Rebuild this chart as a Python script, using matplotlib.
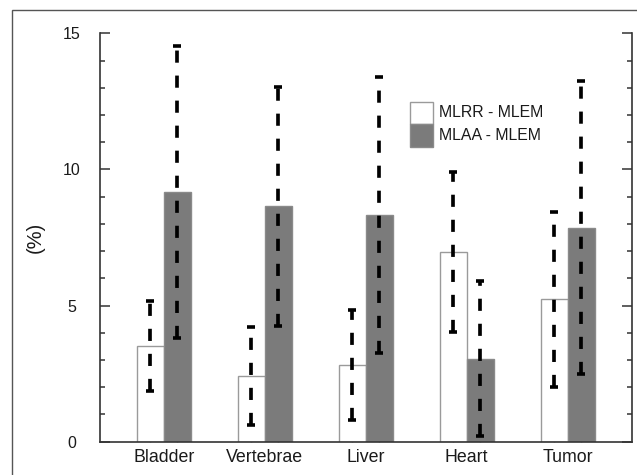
import numpy as np
import matplotlib.pyplot as plt
from matplotlib.patches import Rectangle
from matplotlib.ticker import MultipleLocator

plt.rcParams['font.family'] = ['Liberation Sans', 'DejaVu Sans']

organs = ['Bladder', 'Vertebrae', 'Liver', 'Heart', 'Tumor']
mlrr_mean = [3.53, 2.41, 2.81, 6.96, 5.23]
mlrr_err = [1.65, 1.79, 2.01, 2.93, 3.22]
mlaa_mean = [9.17, 8.64, 8.33, 3.05, 7.86]
mlaa_err = [5.35, 4.39, 5.08, 2.84, 5.39]
series_names = ['MLRR - MLEM', 'MLAA - MLEM']
series_colors = ['white', '#7b7b7b']
series_edges = ['#9a9a9a', '#8a8a8a']

x = np.arange(len(organs))
w = 0.268

fig = plt.figure(figsize=(6.37, 4.75), dpi=100)
ax = fig.add_axes([100 / 637, 1 - 441.7 / 475, 532 / 637, 408.4 / 475])

# thin frame around the figure (only left and top edges visible)
fig.patches.append(Rectangle((12 / 637, -0.1), 1.2, 1.1 - 10 / 475,
                             transform=fig.transFigure, fill=False,
                             edgecolor='#555555', linewidth=1.0))

ax.bar(x - w / 2, mlrr_mean, w, color=series_colors[0], edgecolor=series_edges[0],
       linewidth=1.0, zorder=2)
ax.bar(x + w / 2, mlaa_mean, w, color=series_colors[1], edgecolor=series_edges[1],
       linewidth=1.0, zorder=2)

for xs, m, e in [(x - w / 2, mlrr_mean, mlrr_err), (x + w / 2, mlaa_mean, mlaa_err)]:
    eb = ax.errorbar(xs, m, yerr=e, fmt='none', ecolor='black',
                     elinewidth=2.65, capsize=3.2, capthick=2.6, zorder=3)
    eb[2][0].set_linestyle((0, (3.3, 3.5)))

ax.set_xlim(-0.634, 4.638)
ax.set_ylim(0, 15)

ax.set_xticks(x)
ax.set_xticklabels(organs, fontsize=12.8, color='#1a1a1a')
ax.set_xticks(np.concatenate([x - w / 2, x + w / 2]), minor=True)
ax.tick_params(axis='x', which='major', length=0, pad=5)
ax.tick_params(axis='x', which='minor', direction='in', length=5.8,
               color='#aaaaaa', width=1.0)

ax.yaxis.set_major_locator(MultipleLocator(5))
ax.yaxis.set_minor_locator(MultipleLocator(1))
ax.tick_params(axis='y', which='both', direction='in', left=True, right=True,
               width=1.1, color='#333333')
ax.tick_params(axis='y', which='major', length=7.2, labelsize=11.5,
               pad=20.5, labelcolor='#1a1a1a')
ax.tick_params(axis='y', which='minor', length=3.6)
for lbl in ax.get_yticklabels():
    lbl.set_horizontalalignment('center')

ax.set_ylabel('(%)', fontsize=14.5, color='#1a1a1a', labelpad=13)

ax.spines['top'].set_visible(False)
for s in ['left', 'right', 'bottom']:
    ax.spines[s].set_linewidth(1.2)
    ax.spines[s].set_color('#333333')

# legend: two stacked swatches with labels
key_x, key_w, key_h, key_top = 0.5827, 0.0427, 0.0550, 0.8325
for i, (name, fc, ec) in enumerate(zip(series_names, series_colors, series_edges)):
    y0 = key_top - (i + 1) * key_h
    ax.add_patch(Rectangle((key_x, y0), key_w, key_h, transform=ax.transAxes,
                           facecolor=fc, edgecolor=ec, linewidth=1.0, zorder=4))
    ax.text(key_x + key_w + 0.012, y0 + key_h / 2, name, transform=ax.transAxes,
            fontsize=11.4, color='#1a1a1a', va='center', ha='left')

fig.savefig('out.png', dpi=100)
